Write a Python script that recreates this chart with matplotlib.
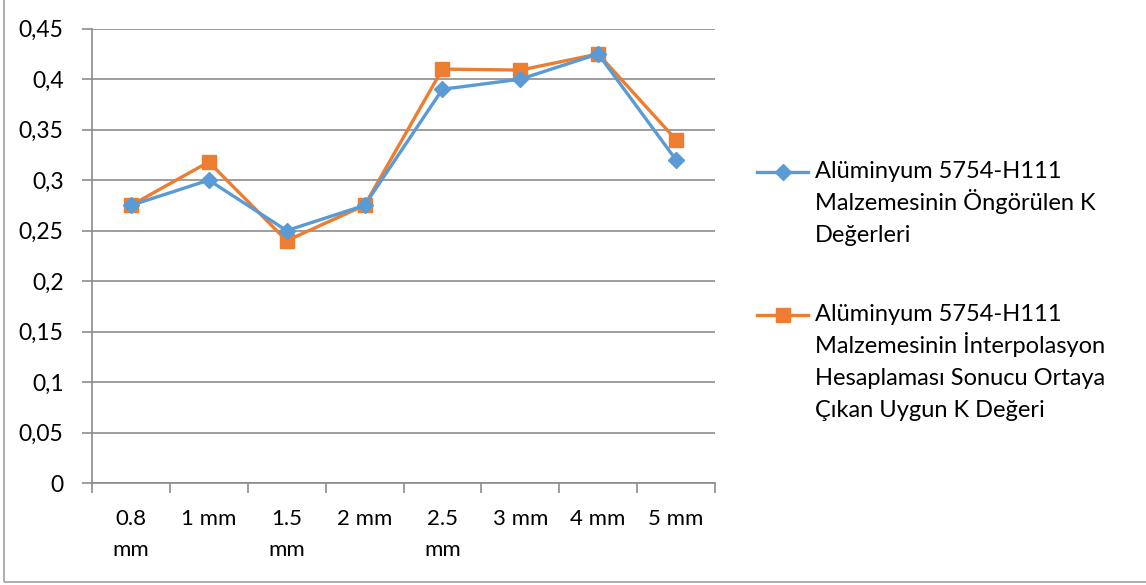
import numpy as np
import matplotlib.pyplot as plt
from matplotlib.lines import Line2D
from matplotlib.patches import Rectangle

plt.rcParams['font.family'] = ['Lato', 'DejaVu Sans']

categories = ["0.8\nmm", "1 mm", "1.5\nmm", "2 mm", "2.5\nmm", "3 mm", "4 mm", "5 mm"]
ongorulen = [0.275, 0.30, 0.25, 0.275, 0.39, 0.40, 0.425, 0.32]
interpolasyon = [0.275, 0.318, 0.24, 0.275, 0.41, 0.409, 0.425, 0.34]

label_blue = ["Alüminyum 5754-H111", "Malzemesinin Öngörülen K", "Değerleri"]
label_orange = ["Alüminyum 5754-H111", "Malzemesinin İnterpolasyon",
                "Hesaplaması Sonucu Ortaya", "Çıkan Uygun K Değeri"]

blue = "#5B9BD5"
orange = "#ED7D31"
grid_c = "#8C8C8C"

W, H = 1146, 585
fig = plt.figure(figsize=(W/100, H/100), dpi=100)
ax = fig.add_axes([92/W, 1-483/H, (715-92)/W, (483-28.7)/H])

x = np.arange(len(categories))
ax.plot(x, ongorulen, color=blue, lw=2.4, marker="D", ms=8, zorder=3)
ax.plot(x, interpolasyon, color=orange, lw=2.4, marker="s", ms=10, zorder=2)

ax.set_xlim(-0.5, len(categories) - 0.5)
ax.set_ylim(0, 0.45)
yt = np.arange(0, 0.4501, 0.05)
ax.set_yticks(yt)
ax.set_yticklabels(["0" if v == 0 else ("%g" % round(v, 2)).replace(".", ",") for v in yt])
ax.yaxis.grid(True, color=grid_c, lw=1.2)
ax.set_axisbelow(True)

# category labels sit between boundary ticks
ax.set_xticks(np.arange(-0.5, len(categories)), minor=False)
ax.set_xticklabels([])
ax.set_xticks(x, minor=True)
ax.set_xticklabels(categories, minor=True, fontsize=16, linespacing=1.65, va="top")
ax.tick_params(axis="x", which="major", length=7, color=grid_c, width=1.2)
ax.tick_params(axis="x", which="minor", length=0, pad=19)
ax.tick_params(axis="y", length=7, color=grid_c, width=1.2, pad=13.5, labelsize=16.5)

for s in ["top", "right"]:
    ax.spines[s].set_visible(False)
for s in ["left", "bottom"]:
    ax.spines[s].set_color(grid_c)
    ax.spines[s].set_linewidth(1.2)

# legend drawn by hand so the marker sits on the first text line
def legend_item(y_px, color, marker, ms, lines):
    y = 1 - y_px/H
    fig.add_artist(Line2D([757/W, 808/W], [y, y], color=color, lw=2.4))
    fig.add_artist(Line2D([782.5/W], [y], color=color, marker=marker, ms=ms))
    for i, line in enumerate(lines):
        base = y_px + 6 + 32*i
        fig.text(815/W, 1 - base/H, line, fontsize=17, va="baseline", ha="left")

legend_item(172, blue, "D", 8, label_blue)
legend_item(315, orange, "s", 10, label_orange)

fig.add_artist(Rectangle((4/W, 3/H), 1.2, 1.2, fill=False,
                         edgecolor="#A0A0A0", lw=1.2, transform=fig.transFigure))

fig.savefig("out.png", dpi=100)
